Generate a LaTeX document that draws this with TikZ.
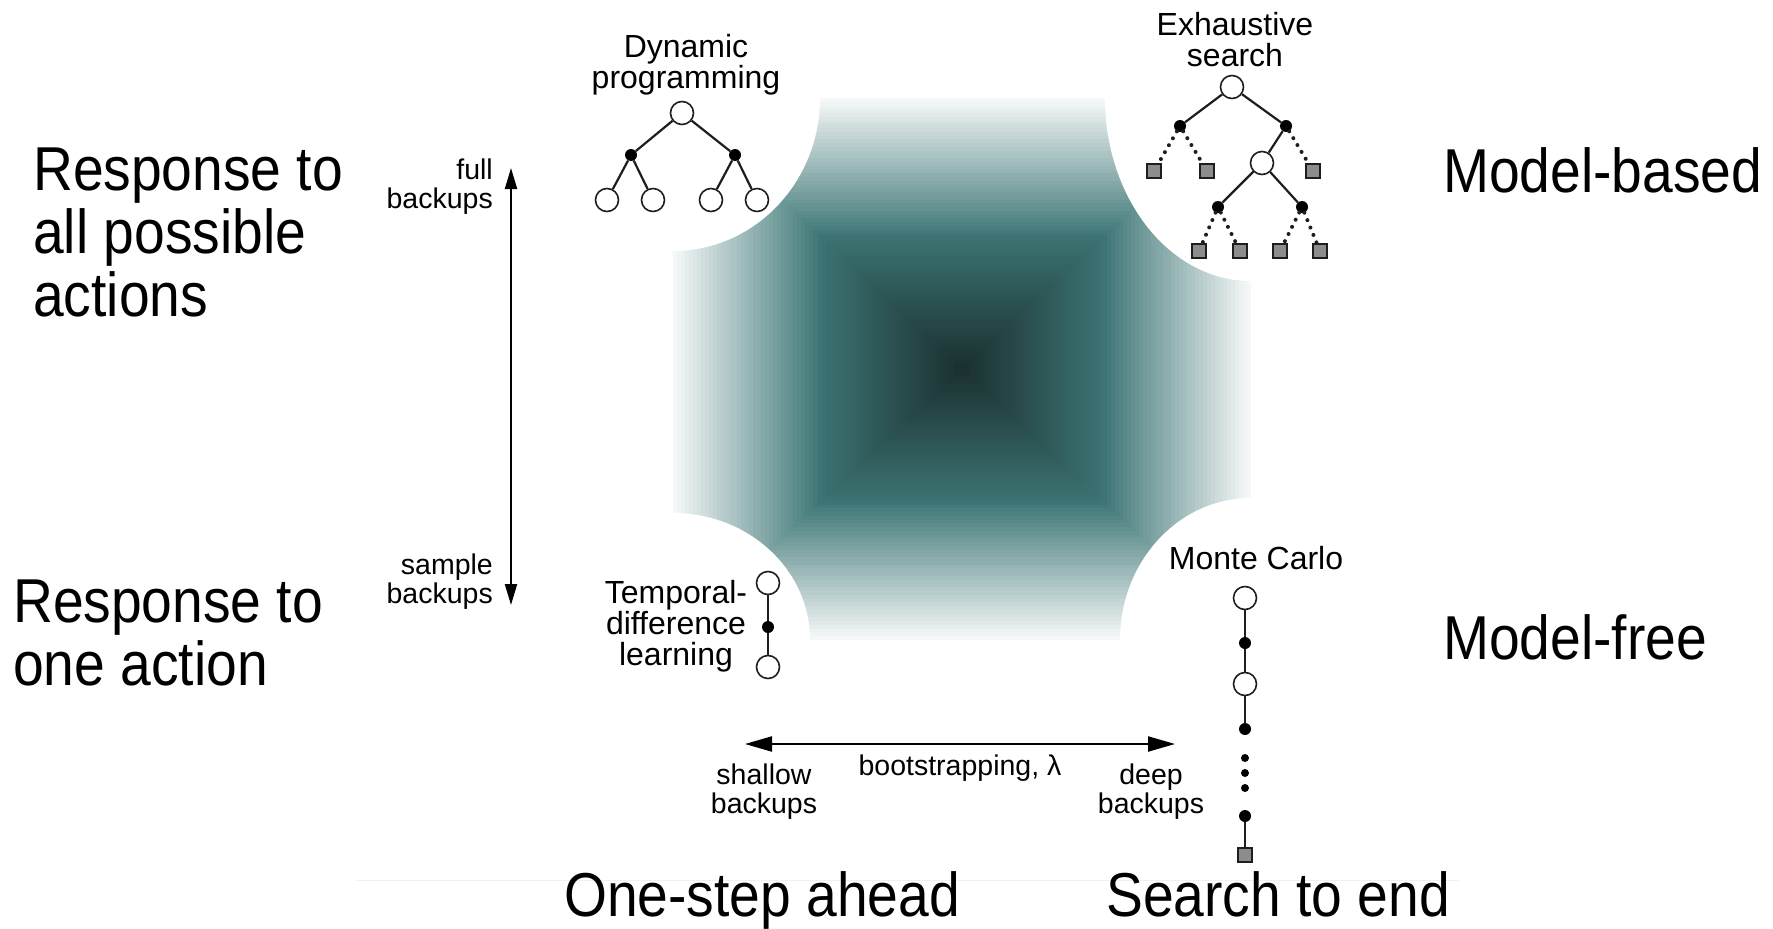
\documentclass[tikz,border=0pt]{standalone}
\usepackage{fontspec}
\setmainfont{Liberation Sans}
\newfontfamily\bigfont[FakeStretch=0.89]{Liberation Sans}
\usetikzlibrary{arrows.meta}
\definecolor{tealmid}{RGB}{62,118,118}
\definecolor{tealdark}{RGB}{26,46,46}
\definecolor{sqgray}{RGB}{140,140,140}
\definecolor{linegray}{RGB}{30,30,30}
\definecolor{faint}{RGB}{240,240,240}
\tikzset{
  opn/.style={circle,draw=linegray,fill=white,line width=1.6pt,minimum size=23pt,inner sep=0pt},
  bdot/.style={circle,fill=black,minimum size=12pt,inner sep=0pt},
  sdot/.style={circle,fill=black,minimum size=8pt,inner sep=0pt},
  sq/.style={rectangle,draw=linegray,fill=sqgray,line width=1.5pt,minimum size=14pt,inner sep=0pt},
  tline/.style={draw=linegray,line width=2.2pt},
  dline/.style={draw=linegray,line width=4pt,line cap=round,dash pattern=on 0pt off 8pt},
  smalltxt/.style={font=\fontsize{28.5}{29}\selectfont,inner sep=0pt},
  medtxt/.style={font=\fontsize{32}{31}\selectfont,inner sep=0pt},
  bigtxt/.style={font=\bigfont\fontsize{62}{63}\selectfont,inner sep=0pt},
  varr/.style={line width=2.2pt,{Triangle[length=21pt,width=12pt]}-{Triangle[length=21pt,width=12pt]}},
  harr/.style={line width=2.2pt,{Triangle[length=27pt,width=15pt]}-{Triangle[length=27pt,width=15pt]}}
}
\begin{document}
\begin{tikzpicture}[x=1pt,y=-1pt]
\useasboundingbox (0,0) rectangle (1773,929);
\fill[white] (0,0) rectangle (1773,929);
% faint line
\draw[faint,line width=1pt] (356,880) -- (1459,880);
% banded rectangular gradient
\foreach \i in {0,...,71}{
  \pgfmathsetmacro\t{1-\i/72}
  \pgfmathtruncatemacro\pw{min(100,max(0,(1.03-\t)/0.53*100))}
  \pgfmathtruncatemacro\pd{max(0,(0.52-\t)/0.52*100)}
  \colorlet{bandc}{tealmid!\pw!white}
  \colorlet{bandc}{tealdark!\pd!bandc}
  \fill[bandc] ({962-289*\t},{369-271*\t}) rectangle ({962+289*\t},{369+271*\t});
}
% white corner cut-outs
\fill[white] (673,98) ellipse [x radius=147pt, y radius=153pt];
\fill[white] (1251,98) ellipse [x radius=146pt, y radius=183pt];
\fill[white] (673,640) ellipse [x radius=137pt, y radius=127pt];
\fill[white] (1251,640) ellipse [x radius=131pt, y radius=142pt];

% big labels
\node[bigtxt,anchor=north west,align=left] (rall) at (33,148) {Response to\\all possible\\actions};
\node[bigtxt,anchor=north west,align=left] (rone) at (13,580) {Response to\\one action};
\node[bigtxt,anchor=base west] (mb) at (1443,192) {Model-based};
\node[bigtxt,anchor=base west] (mf) at (1443,659) {Model-free};
\node[bigtxt,anchor=base west] (osa) at (564,916) {One-step ahead};
\node[bigtxt,anchor=base west] (ste) at (1106,916) {Search to end};

% Dynamic programming
\node[medtxt,anchor=north,align=center] (dplab) at (686,34) {Dynamic\\programming};
\node[opn] (dp0) at (682,113) {};
\node[bdot] (dpa) at (631,155) {};
\node[bdot] (dpb) at (735,155) {};
\node[opn] (dp1) at (607,200) {};
\node[opn] (dp2) at (653,200) {};
\node[opn] (dp3) at (711,200) {};
\node[opn] (dp4) at (757,200) {};
\draw[tline] (dp0) -- (dpa); \draw[tline] (dp0) -- (dpb);
\draw[tline] (dpa) -- (dp1); \draw[tline] (dpa) -- (dp2);
\draw[tline] (dpb) -- (dp3); \draw[tline] (dpb) -- (dp4);

% Exhaustive search
\node[medtxt,anchor=north,align=center] (eslab) at (1235,12) {Exhaustive\\search};
\node[opn] (es0) at (1232,87) {};
\node[bdot] (esa) at (1180,126) {};
\node[bdot] (esb) at (1286,126) {};
\node[sq] (esq1) at (1154,171) {};
\node[sq] (esq2) at (1207,171) {};
\node[sq] (esq3) at (1313,171) {};
\node[opn] (es1) at (1262,163) {};
\node[bdot] (esc) at (1218,207) {};
\node[bdot] (esd) at (1302,207) {};
\node[sq] (esq4) at (1199,251) {};
\node[sq] (esq5) at (1240,251) {};
\node[sq] (esq6) at (1280,251) {};
\node[sq] (esq7) at (1320,251) {};
\draw[tline] (es0) -- (esa); \draw[tline] (es0) -- (esb);
\draw[tline] (esb) -- (es1);
\draw[tline] (es1) -- (esc); \draw[tline] (es1) -- (esd);
\draw[dline] (esa) -- (esq1); \draw[dline] (esa) -- (esq2);
\draw[dline] (esb) -- (esq3);
\draw[dline] (esc) -- (esq4); \draw[dline] (esc) -- (esq5);
\draw[dline] (esd) -- (esq6); \draw[dline] (esd) -- (esq7);

% Temporal-difference learning
\node[medtxt,anchor=north,align=center] (tdlab) at (676,580) {Temporal-\\difference\\learning};
\node[opn] (td0) at (768,583) {};
\node[bdot] (td1) at (768,627) {};
\node[opn] (td2) at (768,667) {};
\draw[tline] (td0) -- (td1); \draw[tline] (td1) -- (td2);

% Monte Carlo
\node[medtxt,anchor=base] (mclab) at (1256,569) {Monte Carlo};
\node[opn] (mc0) at (1245,598) {};
\node[bdot] (mc1) at (1245,643) {};
\node[opn] (mc2) at (1245,684) {};
\node[bdot] (mc3) at (1245,729) {};
\node[sdot] (mce1) at (1245,758) {};
\node[sdot] (mce2) at (1245,773) {};
\node[sdot] (mce3) at (1245,788) {};
\node[bdot] (mc4) at (1245,816) {};
\node[sq] (mc5) at (1245,855) {};
\draw[tline] (mc0) -- (mc1); \draw[tline] (mc1) -- (mc2);
\draw[tline] (mc2) -- (mc3); \draw[tline] (mc4) -- (mc5);

% vertical arrow
\coordinate (vtop) at (511,168);
\coordinate (vbot) at (511,605);
\draw[varr] (vtop) -- (vbot);
\node[smalltxt,anchor=north east,align=right] (full) at (493,159) {full\\backups};
\node[smalltxt,anchor=north east,align=right] (samp) at (493,554) {sample\\backups};

% horizontal arrow
\coordinate (hleft) at (745,744);
\coordinate (hright) at (1175,744);
\draw[harr] (hleft) -- (hright);
\node[smalltxt,anchor=base] (boot) at (960,775) {bootstrapping, λ};
\node[smalltxt,anchor=north,align=center] (shal) at (764,764) {shallow\\backups};
\node[smalltxt,anchor=north,align=center] (deep) at (1151,764) {deep\\backups};
\end{tikzpicture}
\end{document}
